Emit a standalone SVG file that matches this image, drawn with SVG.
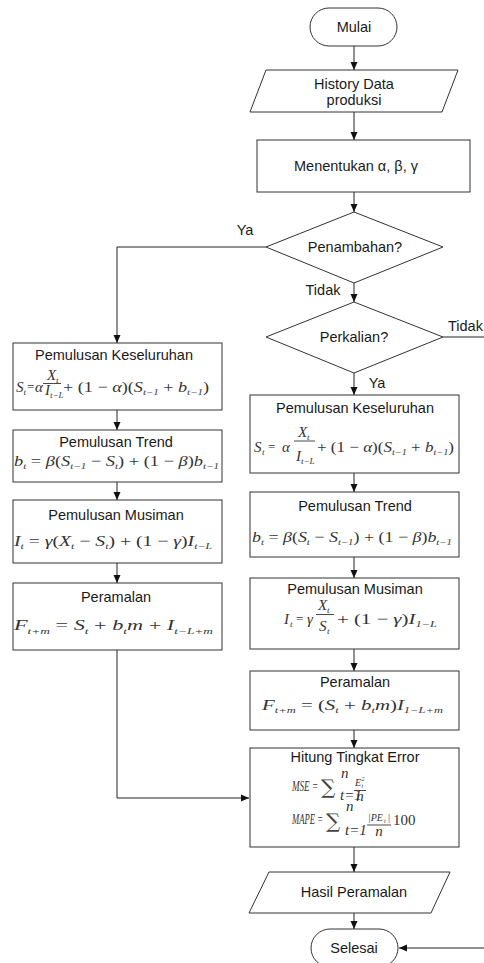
<svg xmlns="http://www.w3.org/2000/svg" width="484" height="963" viewBox="0 0 484 963">
<style>
.nd{fill:#fff;stroke:#333;stroke-width:1}
.t{font-family:"Liberation Sans",Arial,sans-serif;font-size:14.5px;fill:#1a1a1a;text-anchor:middle}
.lb{font-family:"Liberation Sans",Arial,sans-serif;font-size:14.5px;fill:#1a1a1a}
.f{font-family:"Liberation Serif","DejaVu Serif",serif;font-size:15px;fill:#333}
.i{font-style:italic}
.c{text-anchor:middle}
.sb{font-size:9px;font-style:italic}
.eq{font-size:13px}
.sg{font-family:"DejaVu Serif","Liberation Serif",serif;font-size:20px;fill:#444}
.cn{fill:none;stroke:#222;stroke-width:1}
.bar{stroke:#333;stroke-width:0.9}
</style>
<defs>
<marker id="ar" markerUnits="userSpaceOnUse" markerWidth="8" markerHeight="8" viewBox="0 0 8 8" refX="8" refY="4" orient="auto">
<path d="M0,0.5 L8,4 L0,7.5 Z" fill="#111"/>
</marker>
</defs>

<g id="connectors">
<path class="cn" d="M354,46 V70" marker-end="url(#ar)"/>
<path class="cn" d="M354,112 V140" marker-end="url(#ar)"/>
<path class="cn" d="M354,192 V212" marker-end="url(#ar)"/>
<path class="cn" d="M354,283 V302" marker-end="url(#ar)"/>
<path class="cn" d="M266,247 H117 V343" marker-end="url(#ar)"/>
<path class="cn" d="M354,373 V395" marker-end="url(#ar)"/>
<path class="cn" d="M443,337 H487 V948 H399" marker-end="url(#ar)"/>
<path class="cn" d="M117,410 V430" marker-end="url(#ar)"/>
<path class="cn" d="M117,482 V500" marker-end="url(#ar)"/>
<path class="cn" d="M117,563 V583" marker-end="url(#ar)"/>
<path class="cn" d="M117,650 V798 H249" marker-end="url(#ar)"/>
<path class="cn" d="M354,473 V492" marker-end="url(#ar)"/>
<path class="cn" d="M354,557 V578" marker-end="url(#ar)"/>
<path class="cn" d="M354,649 V671" marker-end="url(#ar)"/>
<path class="cn" d="M354,730 V748" marker-end="url(#ar)"/>
<path class="cn" d="M354,847 V872" marker-end="url(#ar)"/>
<path class="cn" d="M354,913 V929" marker-end="url(#ar)"/>
<text class="lb" x="245" y="235" text-anchor="middle">Ya</text>
<text class="lb" x="323" y="295" text-anchor="middle">Tidak</text>
<text class="lb" x="448" y="331">Tidak</text>
<text class="lb" x="377" y="388" text-anchor="middle">Ya</text>
</g>

<g id="mulai">
<rect class="nd" x="310" y="8" width="87" height="38" rx="19"/>
<text class="t" x="354" y="32">Mulai</text>
</g>

<g id="history">
<polygon class="nd" points="266,70 458,70 442,112 250,112"/>
<text class="t" x="354" y="89">History Data</text>
<text class="t" x="354" y="105">produksi</text>
</g>

<g id="menentukan">
<rect class="nd" x="257" y="140" width="213" height="52"/>
<text class="t" x="356" y="171">Menentukan α, β, γ</text>
</g>

<g id="penambahan">
<polygon class="nd" points="354,212 443,247 354,283 266,247"/>
<text class="t" x="355" y="252">Penambahan?</text>
</g>

<g id="perkalian">
<polygon class="nd" points="354,302 443,337 354,373 266,337"/>
<text class="t" x="354" y="342">Perkalian?</text>
</g>

<g id="l-keseluruhan">
<rect class="nd" x="13" y="343" width="209" height="67"/>
<text class="t" x="114" y="360">Pemulusan Keseluruhan</text>
<text class="f"><tspan class="i" x="16" y="392">S</tspan><tspan class="sb" x="23.5" y="395">t</tspan><tspan class="eq" x="27" y="391">=</tspan><tspan class="i" x="35" y="392">α</tspan></text>
<text class="f"><tspan class="i" x="47" y="380">X</tspan><tspan class="sb" x="56" y="383">t</tspan></text>
<line class="bar" x1="43" y1="383.5" x2="61" y2="383.5"/>
<text class="f"><tspan class="i" x="45" y="395">I</tspan><tspan class="sb" x="50" y="398" font-size="8">t−L</tspan></text>
<text class="f" x="63" y="392" textLength="146" lengthAdjust="spacingAndGlyphs">+ (1 − <tspan class="i">α</tspan>)(<tspan class="i">S</tspan><tspan class="sb" dy="3">t−1</tspan><tspan dy="-3"> + </tspan><tspan class="i">b</tspan><tspan class="sb" dy="3">t−1</tspan><tspan dy="-3">)</tspan></text>
</g>

<g id="l-trend">
<rect class="nd" x="13" y="430" width="209" height="52"/>
<text class="t" x="116" y="447">Pemulusan Trend</text>
<text class="f" x="14" y="466" textLength="205" lengthAdjust="spacingAndGlyphs"><tspan class="i">b</tspan><tspan class="sb" dy="3">t</tspan><tspan dy="-3"> = </tspan><tspan class="i">β</tspan>(<tspan class="i">S</tspan><tspan class="sb" dy="3">t−1</tspan><tspan dy="-3"> − </tspan><tspan class="i">S</tspan><tspan class="sb" dy="3">t</tspan><tspan dy="-3">) + (1 − </tspan><tspan class="i">β</tspan>)<tspan class="i">b</tspan><tspan class="sb" dy="3">t−1</tspan></text>
</g>

<g id="l-musiman">
<rect class="nd" x="13" y="500" width="209" height="63"/>
<text class="t" x="116" y="520">Pemulusan Musiman</text>
<text class="f" x="14" y="546" textLength="198" lengthAdjust="spacingAndGlyphs"><tspan class="i">I</tspan><tspan class="sb" dy="3">t</tspan><tspan dy="-3"> = </tspan><tspan class="i">γ</tspan>(<tspan class="i">X</tspan><tspan class="sb" dy="3">t</tspan><tspan dy="-3"> − </tspan><tspan class="i">S</tspan><tspan class="sb" dy="3">t</tspan><tspan dy="-3">) + (1 − </tspan><tspan class="i">γ</tspan>)<tspan class="i">I</tspan><tspan class="sb" dy="3">t−L</tspan></text>
</g>

<g id="l-peramalan">
<rect class="nd" x="13" y="583" width="209" height="67"/>
<text class="t" x="116" y="602">Peramalan</text>
<text class="f" x="14" y="630" font-size="20" textLength="199" lengthAdjust="spacingAndGlyphs"><tspan class="i">F</tspan><tspan class="sb" font-size="13" dy="4">t+m</tspan><tspan dy="-4"> = </tspan><tspan class="i">S</tspan><tspan class="sb" font-size="13" dy="4">t</tspan><tspan dy="-4"> + </tspan><tspan class="i">b</tspan><tspan class="sb" font-size="13" dy="4">t</tspan><tspan class="i" dy="-4">m</tspan> + <tspan class="i">I</tspan><tspan class="sb" font-size="13" dy="4">t−L+m</tspan></text>
</g>

<g id="r-keseluruhan">
<rect class="nd" x="250" y="395" width="209" height="78"/>
<text class="t" x="355" y="413">Pemulusan Keseluruhan</text>
<text class="f"><tspan class="i" x="254" y="452">S</tspan><tspan class="sb" x="262" y="455">t</tspan><tspan class="eq" x="268" y="451">=</tspan><tspan class="i" x="282" y="452">α</tspan></text>
<text class="f"><tspan class="i" x="298" y="437">X</tspan><tspan class="sb" x="307" y="440">t</tspan></text>
<line class="bar" x1="294" y1="441" x2="315" y2="441"/>
<text class="f"><tspan class="i" x="296" y="461">I</tspan><tspan class="sb" x="301" y="464">t−L</tspan></text>
<text class="f" x="317" y="452" textLength="137" lengthAdjust="spacingAndGlyphs">+ (1 − <tspan class="i">α</tspan>)(<tspan class="i">S</tspan><tspan class="sb" dy="3">t−1</tspan><tspan dy="-3"> + </tspan><tspan class="i">b</tspan><tspan class="sb" dy="3">t−1</tspan><tspan dy="-3">)</tspan></text>
</g>

<g id="r-trend">
<rect class="nd" x="250" y="492" width="209" height="65"/>
<text class="t" x="355" y="511">Pemulusan Trend</text>
<text class="f" x="252" y="542" textLength="200" lengthAdjust="spacingAndGlyphs"><tspan class="i">b</tspan><tspan class="sb" dy="3">t</tspan><tspan dy="-3"> = </tspan><tspan class="i">β</tspan>(<tspan class="i">S</tspan><tspan class="sb" dy="3">t</tspan><tspan dy="-3"> − </tspan><tspan class="i">S</tspan><tspan class="sb" dy="3">t−1</tspan><tspan dy="-3">) + (1 − </tspan><tspan class="i">β</tspan>)<tspan class="i">b</tspan><tspan class="sb" dy="3">t−1</tspan></text>
</g>

<g id="r-musiman">
<rect class="nd" x="250" y="578" width="209" height="71"/>
<text class="t" x="355" y="594">Pemulusan Musiman</text>
<text class="f"><tspan class="i" x="284" y="624">I</tspan><tspan class="sb" x="290" y="627">t</tspan><tspan class="eq" x="296" y="623">=</tspan><tspan class="i" x="307" y="624">γ</tspan></text>
<text class="f"><tspan class="i" x="318" y="610">X</tspan><tspan class="sb" x="327" y="613">t</tspan></text>
<line class="bar" x1="316" y1="614.5" x2="334" y2="614.5"/>
<text class="f"><tspan class="i" x="319" y="631">S</tspan><tspan class="sb" x="327" y="634">t</tspan></text>
<text class="f" x="337" y="624" textLength="100" lengthAdjust="spacingAndGlyphs">+ (1 − <tspan class="i">γ</tspan>)<tspan class="i">I</tspan><tspan class="sb" dy="3">1−L</tspan></text>
</g>

<g id="r-peramalan">
<rect class="nd" x="250" y="671" width="209" height="59"/>
<text class="t" x="355" y="687">Peramalan</text>
<text class="f" x="262" y="710" font-size="16" textLength="181" lengthAdjust="spacingAndGlyphs"><tspan class="i">F</tspan><tspan class="sb" font-size="11" dy="3">t+m</tspan><tspan dy="-3"> = (</tspan><tspan class="i">S</tspan><tspan class="sb" font-size="11" dy="3">t</tspan><tspan dy="-3"> + </tspan><tspan class="i">b</tspan><tspan class="sb" font-size="11" dy="3">t</tspan><tspan class="i" dy="-3">m</tspan>)<tspan class="i">I</tspan><tspan class="sb" font-size="11" dy="3">1−L+m</tspan></text>
</g>

<g id="hitung">
<rect class="nd" x="250" y="748" width="209" height="99"/>
<text class="t" x="355" y="762">Hitung Tingkat Error</text>
<text class="f i" x="292" y="791" font-size="10" textLength="26" lengthAdjust="spacingAndGlyphs">MSE =</text>
<text class="sg" x="321" y="794">∑</text>
<text class="f i" x="341" y="778" font-size="8">n</text>
<text class="f i" x="340" y="800" font-size="7">t=1</text>
<text class="f"><tspan class="i" x="355" y="786" font-size="10">E</tspan><tspan class="i" x="361.5" y="781" font-size="6">2</tspan><tspan class="i" x="361.5" y="788" font-size="6">t</tspan></text>
<line class="bar" x1="354" y1="790.5" x2="366" y2="790.5"/>
<text class="f i c" x="360" y="801" font-size="10">n</text>
<text class="f i" x="292" y="824" font-size="10" textLength="31" lengthAdjust="spacingAndGlyphs">MAPE =</text>
<text class="sg" x="326" y="828">∑</text>
<text class="f i" x="346" y="811" font-size="8">n</text>
<text class="f i" x="345" y="835" font-size="7">t=1</text>
<text class="f"><tspan class="i" x="368" y="821" font-size="10">|PE</tspan><tspan class="i" x="384" y="823" font-size="6">t</tspan><tspan class="i" x="387.5" y="821" font-size="10">|</tspan></text>
<line class="bar" x1="367" y1="825" x2="391" y2="825"/>
<text class="f i c" x="379" y="836" font-size="10">n</text>
<text class="f" x="393" y="825" font-size="11">100</text>
</g>

<g id="hasil">
<polygon class="nd" points="269,872 450,872 431,913 249,913"/>
<text class="t" x="354" y="897">Hasil Peramalan</text>
</g>

<g id="selesai">
<rect class="nd" x="311" y="929" width="87" height="38" rx="19"/>
<text class="t" x="354" y="953">Selesai</text>
</g>
</svg>
